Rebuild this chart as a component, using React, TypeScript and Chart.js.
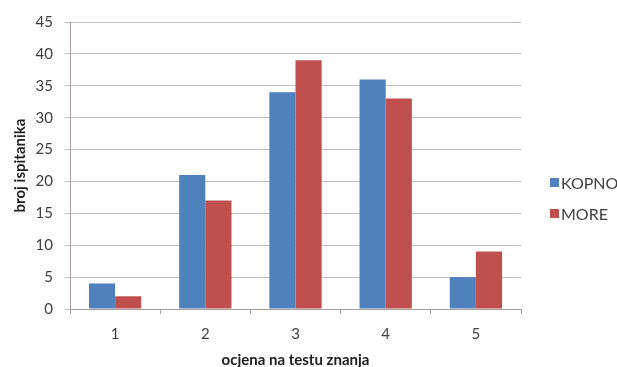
import React, { useEffect, useRef } from "react";
import { Chart, registerables } from "chart.js";

Chart.register(...registerables);

const categories = ["1", "2", "3", "4", "5"];
const kopno = [4, 21, 34, 36, 5];
const more = [2, 17, 39, 33, 9];
const seriesNames = ["KOPNO", "MORE"];
const seriesColors = ["#4f81bd", "#c0504d"];

const FONT = "Lato, 'Open Sans', sans-serif";

const legendPlugin = {
  id: "customLegend",
  afterDraw(chart: any) {
    const { ctx, chartArea } = chart;
    ctx.save();
    const x0 = chartArea.right + 29;
    const yc = (chartArea.top + chartArea.bottom) / 2;
    const ys = [yc + 17, yc + 48];
    chart.data.datasets.forEach((ds: any, i: number) => {
      ctx.fillStyle = ds.backgroundColor;
      ctx.fillRect(x0, ys[i] - 4.5, 9, 9);
      ctx.fillStyle = "#404040";
      ctx.font = `16px ${FONT}`;
      ctx.textBaseline = "middle";
      ctx.textAlign = "left";
      ctx.fillText(ds.label, x0 + 11, ys[i] + 1);
    });
    ctx.restore();
  },
};

export default function App() {
  const ref = useRef<HTMLCanvasElement>(null);
  useEffect(() => {
    if (!ref.current) return;
    const chart = new Chart(ref.current, {
      type: "bar",
      data: {
        labels: categories,
        datasets: [
          { label: seriesNames[0], data: kopno, backgroundColor: seriesColors[0] },
          { label: seriesNames[1], data: more, backgroundColor: seriesColors[1] },
        ],
      },
      options: {
        responsive: false,
        animation: false,
        layout: { padding: { left: 0, top: 22, right: 96, bottom: 0 } },
        datasets: { bar: { categoryPercentage: 0.58, barPercentage: 1 } },
        plugins: { legend: { display: false }, tooltip: { enabled: false } },
        scales: {
          x: {
            afterFit: (s: any) => { s.height = 58; },
            grid: {
              drawOnChartArea: false,
              drawTicks: true,
              tickLength: 5,
              offset: true,
              color: "#a89c9c",
            },
            border: { color: "#a89c9c" },
            ticks: { color: "#404040", font: { family: FONT, size: 15 }, padding: 11 },
            title: {
              display: true,
              text: "ocjena na testu znanja",
              color: "#202020",
              font: { family: FONT, size: 15, weight: "bold" },
              padding: { top: 0, bottom: -2 },
            },
          },
          y: {
            min: 0,
            max: 45,
            afterFit: (s: any) => { s.width = 70; },
            ticks: { stepSize: 5, color: "#404040", font: { family: FONT, size: 15 }, padding: 12 },
            grid: { color: "#c4bcbc", tickLength: 5, drawTicks: true },
            border: { color: "#a89c9c" },
            title: {
              display: true,
              text: "broj ispitanika",
              color: "#202020",
              font: { family: FONT, size: 15, weight: "bold" },
              padding: { top: 11, bottom: 0 },
            },
          },
        },
      },
      plugins: [legendPlugin],
    });
    return () => chart.destroy();
  }, []);
  return (
    <div style={{ position: "fixed", left: 0, top: 0, width: 617, height: 367, background: "#fff" }}>
      <canvas ref={ref} width={617} height={367} />
    </div>
  );
}
